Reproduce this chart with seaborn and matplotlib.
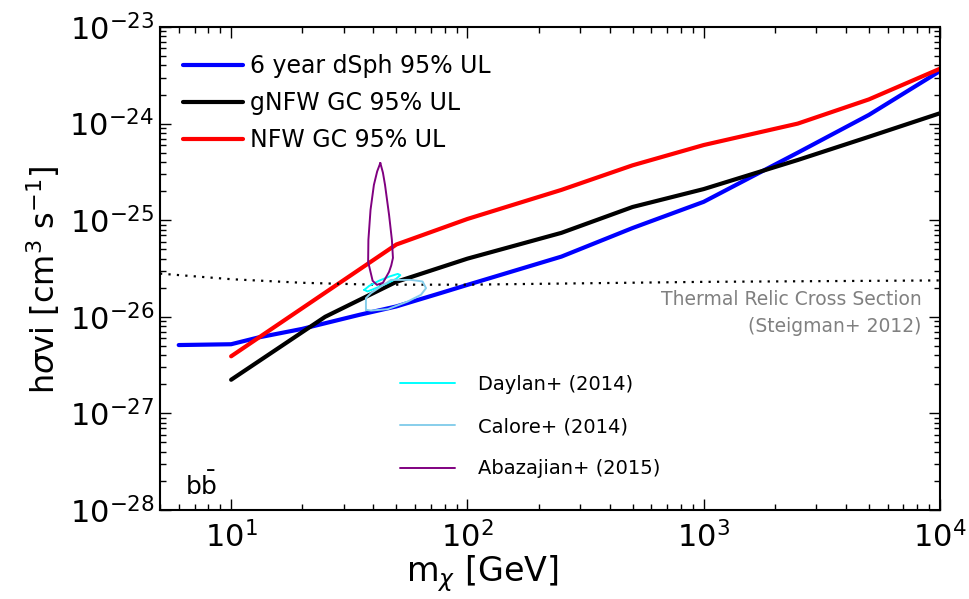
import matplotlib
matplotlib.use('Agg')
import matplotlib.pyplot as plt
import numpy as np
import seaborn as sns

sns.set_style('ticks', {'axes.edgecolor': 'black', 'text.color': 'black',
                        'axes.labelcolor': 'black', 'xtick.color': 'black',
                        'ytick.color': 'black'})
plt.rcParams['font.family'] = ['DejaVu Sans']
plt.rcParams['mathtext.fontset'] = 'dejavusans'

# upper limits, mass in GeV, <sigma v> in cm^3/s
mass_dsph = [6, 10, 13, 20, 35, 50, 77, 100, 250, 500, 1000, 2500, 5000, 10000]
sv_dsph = [5.1e-27, 5.2e-27, 6.1e-27, 7.5e-27, 1.05e-26, 1.28e-26, 1.76e-26, 2.14e-26,
           4.2e-26, 8.3e-26, 1.55e-25, 5.0e-25, 1.23e-24, 3.5e-24]

mass_gnfw = [10, 25, 35, 50, 100, 250, 500, 1000, 2500, 5000, 10000]
sv_gnfw = [2.23e-27, 1.0e-26, 1.5e-26, 2.3e-26, 4.0e-26, 7.4e-26, 1.37e-25,
           2.1e-25, 4.2e-25, 7.3e-25, 1.28e-24]

mass_nfw = [10, 50, 100, 250, 500, 1000, 2500, 5000, 10000]
sv_nfw = [3.9e-27, 5.6e-26, 1.03e-25, 2.06e-25, 3.7e-25, 6.0e-25, 1.0e-24, 1.78e-24, 3.7e-24]

# thermal relic cross section
mass_relic = [5, 10, 20, 40, 100, 300, 1000, 10000]
sv_relic = [2.8e-26, 2.45e-26, 2.25e-26, 2.15e-26, 2.15e-26, 2.22e-26, 2.3e-26, 2.38e-26]

# GC excess contours
mass_daylan = [36.6, 38.4, 42.4, 46.7, 50.7, 52.0, 49.9, 45.2, 41.0, 37.8]
sv_daylan = [1.90e-26, 2.09e-26, 2.37e-26, 2.61e-26, 2.78e-26, 2.70e-26, 2.47e-26,
             2.19e-26, 1.98e-26, 1.83e-26]

mass_calore = [37.2, 37.2, 39.1, 47.5, 57.7, 64.6, 66.8, 63.6, 55.9, 46.0, 39.1]
sv_calore = [1.18e-26, 1.56e-26, 1.76e-26, 2.41e-26, 2.41e-26, 2.32e-26, 1.98e-26,
             1.69e-26, 1.44e-26, 1.20e-26, 1.16e-26]

mass_abaz = [42.8, 43.9, 44.8, 46.6, 47.9, 48.4, 47.6, 46.6, 43.9, 41.4, 39.7,
             38.0, 38.1, 38.9, 40.2, 41.5]
sv_abaz = [3.91e-25, 3.1e-25, 2.32e-25, 1.135e-25, 6.26e-26, 4.07e-26, 3.4e-26, 2.92e-26,
           2.25e-26, 2.14e-26, 2.36e-26, 3.71e-26, 6.26e-26, 1.28e-25, 2.32e-25, 3.2e-25]

x_major = [1e1, 1e2, 1e3, 1e4]
y_major = [1e-28, 1e-27, 1e-26, 1e-25, 1e-24, 1e-23]

fig, ax = plt.subplots(figsize=(9.69, 5.99), dpi=100)
fig.subplots_adjust(left=160/969, right=940/969, top=1-27/599, bottom=1-510/599)

sns.lineplot(x=mass_dsph, y=sv_dsph, color='#0000ff', lw=3, label='6 year dSph 95% UL',
             ax=ax, legend=False)
sns.lineplot(x=mass_gnfw, y=sv_gnfw, color='black', lw=3, label='gNFW GC 95% UL',
             ax=ax, legend=False)
sns.lineplot(x=mass_nfw, y=sv_nfw, color='#ff0000', lw=3, label='NFW GC 95% UL',
             ax=ax, legend=False)
sns.lineplot(x=mass_relic, y=sv_relic, color='black', lw=1.6, linestyle=(0, (1, 2.8)),
             ax=ax, legend=False)


def closed(a):
    return np.append(a, a[0])


sns.lineplot(x=closed(mass_daylan), y=closed(sv_daylan), sort=False, estimator=None,
             color='#00ffff', lw=1.4, label='Daylan+ (2014)', ax=ax, legend=False)
sns.lineplot(x=closed(mass_calore), y=closed(sv_calore), sort=False, estimator=None,
             color='#87ceeb', lw=1.4, label='Calore+ (2014)', ax=ax, legend=False)
sns.lineplot(x=closed(mass_abaz), y=closed(sv_abaz), sort=False, estimator=None,
             color='#800080', lw=1.4, label='Abazajian+ (2015)', ax=ax, legend=False)

ax.set(xscale='log', yscale='log')
ax.set_xticks(x_major)
ax.set_yticks(y_major)
ax.set(xlim=(5, 1e4), ylim=(1e-28, 1e-23))
ax.tick_params(which='both', direction='in', top=True, right=True, width=1)
ax.tick_params(which='major', length=8, labelsize=22, pad=8)
ax.tick_params(which='minor', length=4.5)
ax.tick_params(axis='y', which='major', pad=4)
for s in ax.spines.values():
    s.set_linewidth(1.5)

ax.set_xlabel(r'm$_\chi$ [GeV]', fontsize=24)
ax.set_ylabel(r'h$\sigma$vi [cm$^3$ s$^{-1}$]', fontsize=23)
ax.xaxis.set_label_coords(0.413, -0.09)
ax.yaxis.set_label_coords(-0.125, 0.476)

handles, labels = ax.get_legend_handles_labels()
leg1 = ax.legend(handles[:3], labels[:3], loc='upper left', bbox_to_anchor=(0.0295, 0.944),
                 frameon=False, fontsize=17, borderpad=0, borderaxespad=0,
                 handlelength=2.55, handletextpad=0.3, labelspacing=0.55)
ax.add_artist(leg1)
ax.legend(handles[3:], labels[3:], loc='upper left', bbox_to_anchor=(0.308, 0.28),
          frameon=False, fontsize=14, borderpad=0, borderaxespad=0,
          handlelength=2.8, handletextpad=1.2, labelspacing=1.2)

ax.text(0.976, 0.435, 'Thermal Relic Cross Section', transform=ax.transAxes,
        ha='right', va='center', fontsize=13.5, color='#808080')
ax.text(0.976, 0.379, '(Steigman+ 2012)', transform=ax.transAxes,
        ha='right', va='center', fontsize=13.5, color='#808080')
ax.text(0.032, 0.02, r'$\mathrm{b\bar{b}}$', transform=ax.transAxes,
        ha='left', va='bottom', fontsize=18)

fig.savefig('out.png', dpi=100)
